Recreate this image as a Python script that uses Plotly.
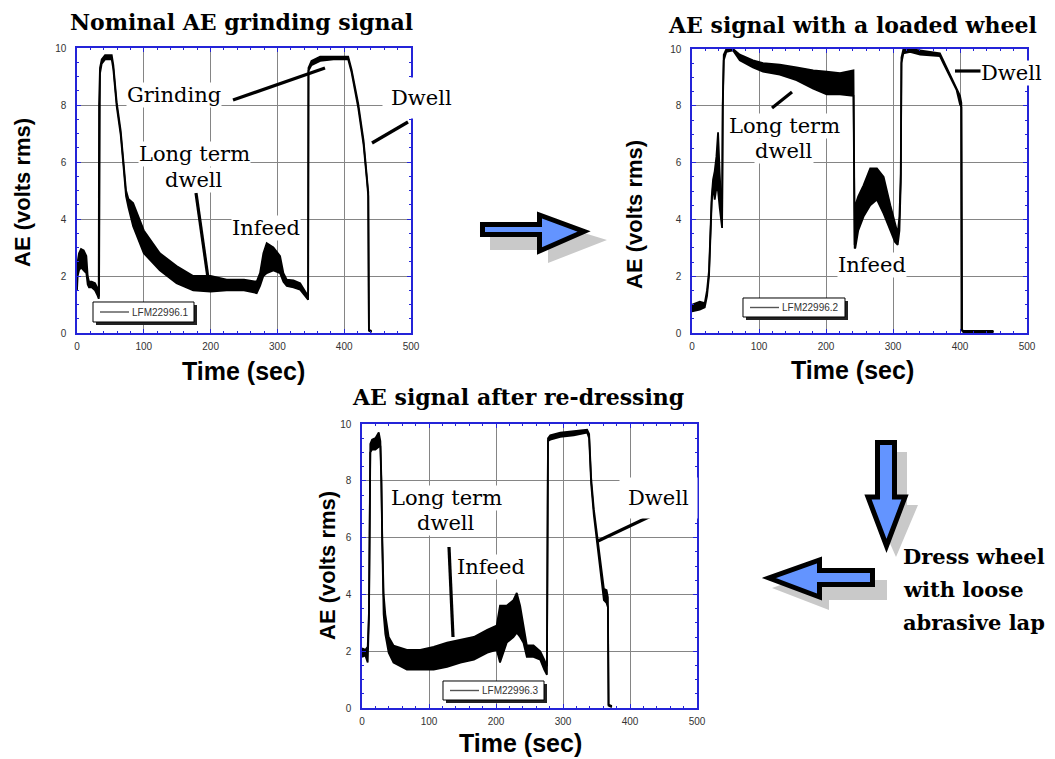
import plotly.graph_objects as go

W, H = 1055, 759
OFF = 8  # the page body margin shifts the figure by 8 px right and down

# ---------------- data ----------------
# Panel 1: Nominal AE grinding signal (band = lower / upper envelope of the noisy trace)
t1 = [0, 1, 3, 6, 10, 14, 16, 18, 22, 27, 31, 32.5, 33, 34.4, 37, 42, 52, 54.4, 59.4, 65.4,
      69.4, 73.4, 77, 84, 100, 124, 149, 174, 200, 224, 250, 269, 274, 279, 284, 294, 304, 309, 314, 324,
      334, 341, 346, 346.5, 351, 364, 384, 406, 411, 421, 429, 434, 436, 437, 441]
lo1 = [1.5, 2.0, 2.2, 2.3, 2.2, 2.1, 1.7, 1.6, 1.6, 1.5, 1.3, 1.2, 1.3, 9.1, 9.45, 9.6, 9.6, 9.25, 7.95, 6.95,
       5.9, 4.8, 4.4, 3.75, 2.8, 2.2, 1.75, 1.5, 1.45, 1.5, 1.5, 1.4, 1.65, 2.0, 2.1, 2.2, 2.1, 1.8, 1.65, 1.6,
       1.52, 1.3, 1.17, 9.2, 9.4, 9.55, 9.6, 9.6, 9.15, 7.9, 6.6, 5.35, 4.8, 0.08, 0.03]
hi1 = [2.1, 2.5, 2.8, 2.95, 2.9, 2.7, 2.0, 1.8, 1.8, 1.75, 1.55, 1.3, 8.0, 9.3, 9.6, 9.75, 9.75, 9.4, 8.1, 7.1,
       6.05, 5.0, 4.7, 4.56, 3.6, 2.8, 2.35, 2.0, 2.0, 1.87, 1.87, 1.8, 2.1, 2.8, 3.15, 3.0, 2.7, 2.1, 1.87, 1.85,
       1.75, 1.5, 1.29, 9.3, 9.55, 9.7, 9.7, 9.7, 9.25, 8.05, 6.75, 5.5, 4.95, 0.12, 0.07]

# Panel 2: AE signal with a loaded wheel
t2 = [0, 11.5, 19, 22.4, 25.4, 27.4, 29.4, 31.4, 33.9, 36.4, 38.9, 41.4, 44.9, 45.9, 47.4, 51.3, 61.3, 71.3, 91, 106,
      131, 156, 181, 201, 221, 241, 242.8, 243.8, 248, 256, 266, 276, 286, 296, 303, 307, 309.6, 311.6, 312.6, 315.5,
      325.5, 340.5, 370, 375, 385, 390, 395, 400, 402, 403, 405, 450]
lo2 = [0.76, 0.82, 0.9, 1.3, 2.0, 3.4, 4.6, 5.2, 4.7, 5.1, 5.0, 4.4, 3.7, 7.9, 9.6, 9.9, 9.95, 9.6, 9.35, 9.2,
       9.1, 8.9, 8.6, 8.4, 8.4, 8.35, 2.98, 3.0, 3.6, 4.1, 4.5, 4.7, 4.2, 3.6, 3.2, 3.1, 3.6, 5.3, 9.5, 9.85,
       9.9, 9.8, 9.75, 9.5, 9.0, 8.8, 8.55, 8.05, 7.95, 0.08, 0.03, 0.03]
hi2 = [1.0, 1.1, 1.05, 1.5, 2.2, 3.6, 4.8, 5.4, 5.7, 6.2, 7.07, 5.6, 3.9, 8.1, 9.8, 10.0, 10.0, 9.8, 9.6, 9.5,
       9.45, 9.35, 9.25, 9.2, 9.15, 9.25, 3.1, 4.5, 4.8, 5.2, 5.8, 5.8, 5.5, 4.5, 3.9, 3.5, 4.1, 5.6, 9.7, 10.0,
       10.0, 9.95, 9.85, 9.6, 9.1, 8.9, 8.65, 8.35, 8.1, 0.12, 0.07, 0.07]

# Panel 3: AE signal after re-dressing
t3 = [0, 5, 8.5, 10.4, 12.4, 15, 20, 25, 27.4, 28.9, 30.3, 32.3, 34.8, 39.8, 47, 67, 87, 107, 127, 147,
      167, 187, 201, 206, 216, 226, 231, 236, 241, 246, 256, 266, 272, 276, 277.6, 281, 296, 316, 336, 339,
      342, 346, 351, 356, 361, 365, 367, 368, 373]
lo3 = [1.8, 1.85, 1.6, 3.2, 9.0, 9.1, 9.1, 9.2, 9.2, 7.9, 5.7, 3.3, 2.6, 1.95, 1.6, 1.35, 1.35, 1.35, 1.45, 1.6,
       1.7, 1.95, 2.05, 1.6, 2.3, 2.5, 2.65, 2.5, 2.3, 1.8, 1.8, 1.7, 1.35, 1.17, 9.4, 9.45, 9.55, 9.6, 9.7, 9.5,
       7.9, 6.8, 5.8, 4.9, 3.8, 3.7, 3.55, 0.08, 0.03]
hi3 = [2.1, 2.05, 2.15, 3.4, 9.3, 9.45, 9.5, 9.7, 9.4, 8.1, 5.9, 4.0, 3.3, 2.5, 2.2, 2.05, 2.05, 2.15, 2.3, 2.4,
       2.5, 2.75, 2.9, 3.6, 3.6, 3.8, 4.05, 3.6, 2.9, 2.2, 2.2, 2.0, 1.7, 1.47, 9.5, 9.6, 9.7, 9.75, 9.8, 9.65,
       8.1, 7.0, 6.0, 5.05, 4.2, 4.15, 3.9, 0.12, 0.07]

series_names = ["LFM22996.1", "LFM22996.2", "LFM22996.3"]
titles = ["Nominal AE grinding signal", "AE signal with a loaded wheel", "AE signal after re-dressing"]
x_ticks = [0, 100, 200, 300, 400, 500]
y_ticks = [0, 2, 4, 6, 8, 10]
x_title = "Time (sec)"
y_title = "AE (volts rms)"

# ---------------- helpers ----------------
def px(x):
    return (x - OFF) / W


def py(y):
    return 1 - (y - OFF) / H


BLUE = "#2424d8"
SERIF = "DejaVu Serif"
SANS = "Liberation Sans, Arial"

fig = go.Figure()

panels = [
    (t1, lo1, hi1, "x", "y"),
    (t2, lo2, hi2, "x2", "y2"),
    (t3, lo3, hi3, "x3", "y3"),
]
for (t, lo, hi, xa, ya), nm in zip(panels, series_names):
    fig.add_trace(go.Scatter(x=t, y=lo, xaxis=xa, yaxis=ya, mode="lines",
                             line=dict(color="black", width=1.8), showlegend=False, name=nm))
    fig.add_trace(go.Scatter(x=t, y=hi, xaxis=xa, yaxis=ya, mode="lines", fill="tonexty",
                             fillcolor="black", line=dict(color="black", width=1.8),
                             showlegend=False, name=nm))


def common():
    return dict(showgrid=True, gridcolor="#858585", gridwidth=1, zeroline=False, automargin=False,
                showline=True, linecolor=BLUE, linewidth=1.5, mirror="ticks",
                ticks="inside", ticklen=4, tickcolor=BLUE, tickwidth=1,
                tickfont=dict(family=SANS, size=10, color="#333"))


def xax(dom, anchor):
    d = common()
    d.update(domain=dom, anchor=anchor, range=[0, 500], tickvals=x_ticks, ticklabelstandoff=3,
             minor=dict(dtick=20, tick0=0, ticks="inside", ticklen=2, tickcolor=BLUE, showgrid=False))
    return d


def yax(dom, anchor):
    d = common()
    d.update(domain=dom, anchor=anchor, range=[0, 10], tickvals=y_ticks, ticklabelstandoff=7,
             minor=dict(dtick=0.5, tick0=0, ticks="inside", ticklen=2, tickcolor=BLUE, showgrid=False))
    return d


fig.update_layout(
    template="none",
    width=W, height=H, margin=dict(l=0, r=0, t=0, b=0, pad=0, autoexpand=False),
    paper_bgcolor="white", plot_bgcolor="white", showlegend=False,
    xaxis=xax([px(77), px(411)], "y"),
    yaxis=yax([py(333), py(48)], "x"),
    xaxis2=xax([px(692), px(1027)], "y2"),
    yaxis2=yax([py(333), py(49)], "x2"),
    xaxis3=xax([px(362), px(697)], "y3"),
    yaxis3=yax([py(708), py(424)], "x3"),
)

ann = []
shapes = []


def text(x, y, s, size=21, family=SERIF, bold=False, bg=True, xanchor="center", pad=0, angle=0):
    ann.append(dict(x=px(x), y=py(y), xref="paper", yref="paper", text=f"<b>{s}</b>" if bold else s,
                    showarrow=False, xanchor=xanchor, yanchor="middle", textangle=angle,
                    font=dict(family=family, size=size, color="black"),
                    bgcolor="white" if bg else "rgba(0,0,0,0)", borderpad=pad))


def seg(x0, y0, x1, y1, w=3.2, color="black"):
    shapes.append(dict(type="line", xref="paper", yref="paper", x0=px(x0), y0=py(y0), x1=px(x1), y1=py(y1),
                       line=dict(color=color, width=w), layer="above"))


def poly(pts, fill, line_color=None, lw=0):
    path = "M " + " L ".join(f"{px(a):.5f},{py(b):.5f}" for a, b in pts) + " Z"
    shapes.append(dict(type="path", xref="paper", yref="paper", path=path, fillcolor=fill,
                       line=dict(color=line_color or fill, width=lw), layer="above"))


def legend_box(x0, y0, x1, y1, name):
    poly([(x0 + 3, y0 + 3), (x1 + 3, y0 + 3), (x1 + 3, y1 + 3), (x0 + 3, y1 + 3)], "#222222")
    poly([(x0, y0), (x1, y0), (x1, y1), (x0, y1)], "white", "black", 1)
    ym = (y0 + y1) / 2
    seg(x0 + 7, ym, x0 + 36, ym, w=1.4, color="#555")
    ann.append(dict(x=px(x0 + 37), y=py(ym), xref="paper", yref="paper", text=name, showarrow=False,
                    xanchor="left", yanchor="middle", font=dict(family=SANS, size=10, color="#333")))


# titles
text(242, 22, titles[0], size=22, bold=True, bg=False)
text(852, 25, titles[1], size=22, bold=True, bg=False)
text(518, 397, titles[2], size=22, bold=True, bg=False)

# axis titles
for cx, cy in [(243, 371), (852, 370), (520, 743)]:
    text(cx, cy, x_title, size=25, family=SANS, bold=True, bg=False)
for cx, cy in [(23, 193), (635, 215), (327, 566)]:
    text(cx, cy, y_title, size=22, family=SANS, bold=True, bg=False, angle=-90)

# panel 1 annotations
text(174, 95, "Grinding")
seg(233, 100, 325, 68)
text(421, 98, "Dwell", pad=8)
seg(372, 143, 408, 122)
text(194, 154, "Long term")
text(194, 180, "dwell")
seg(196, 193, 208, 278)
text(266, 228, "Infeed")

# panel 2 annotations
text(784, 126, "Long term")
text(784, 151, "dwell")
seg(772, 108, 792, 92)
text(1011, 73, "Dwell")
seg(955, 71, 982, 71)
text(872, 265, "Infeed")

# panel 3 annotations
text(446, 498, "Long term")
text(446, 523, "dwell")
seg(449, 547, 453, 637)
text(491, 567, "Infeed")
text(658, 498, "Dwell", pad=8)
seg(598, 541, 655, 514)

# legends
legend_box(93, 302, 194, 322, series_names[0])
legend_box(743, 298, 845, 317, series_names[1])
legend_box(443, 681, 544, 700, series_names[2])

# flow arrows (shadow then arrow)
ARROW = "#6394ff"
SHADOW = "#c9c9c9"
poly([(490, 232), (548, 232), (548, 222), (607, 240), (548, 263), (548, 250), (490, 250)], SHADOW)
poly([(482.5, 224.5), (539.5, 224.5), (539.5, 215), (584, 231.5), (539.5, 251), (539.5, 234.5), (482.5, 234.5)],
     ARROW, "black", 5)

poly([(885, 452), (907, 452), (907, 505), (918, 505), (896, 557), (873, 505), (885, 505)], SHADOW)
poly([(877.5, 442.5), (894.5, 442.5), (894.5, 497), (905, 497), (886.5, 546), (868, 497), (877.5, 497)],
     ARROW, "black", 5)

poly([(829, 580), (887, 580), (887, 600), (829, 600), (829, 610), (772, 588), (829, 568)], SHADOW)
poly([(872.5, 570.5), (872.5, 584.5), (819.5, 584.5), (819.5, 597), (769, 578), (819.5, 560), (819.5, 570.5)],
     ARROW, "black", 5)

text(902, 556, "Dress wheel", size=21, bold=True, bg=False, xanchor="left")
text(902, 589, "with loose", size=21, bold=True, bg=False, xanchor="left")
text(902, 622, "abrasive lap", size=21, bold=True, bg=False, xanchor="left")

fig.update_layout(annotations=ann, shapes=shapes)
fig.write_html("out.html")
